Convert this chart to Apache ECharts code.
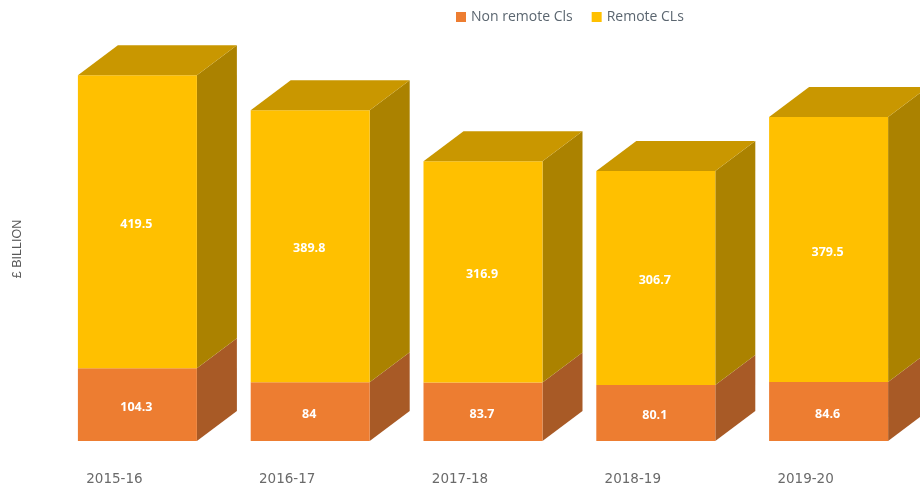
<!DOCTYPE html>
<html>
<head>
<meta charset="utf-8">
<style>
  html, body { margin: 0; padding: 0; background: #fff; }
  #main { width: 920px; height: 488px; }
</style>
<script src="https://cdn.jsdelivr.net/npm/echarts@6/dist/echarts.min.js"></script>
</head>
<body>
<div id="main"></div>
<script>
const categories = ['2015-16', '2016-17', '2017-18', '2018-19', '2019-20'];
const nonRemote = [104.3, 84, 83.7, 80.1, 84.6];
const remote = [419.5, 389.8, 316.9, 306.7, 379.5];

const barWidth = 119;
const depthX = 40;
const depthY = 30;

// fake 3D box: front, side and top faces, drawn from the axis scales
function box(front, side, top) {
    return function (params, api) {
        const i = api.value(0);
        const low = api.coord([i, api.value(1)]);
        const high = api.coord([i, api.value(2)]);
        const x0 = low[0] - barWidth / 2;
        const x1 = x0 + barWidth;
        const yb = low[1];
        const yt = high[1];
        const children = [
            {
                type: 'polygon',
                shape: { points: [[x1, yb], [x1 + depthX, yb - depthY], [x1 + depthX, yt - depthY], [x1, yt]] },
                style: { fill: side }
            },
            {
                type: 'rect',
                shape: { x: x0, y: yt, width: barWidth, height: yb - yt },
                style: { fill: front }
            },
            {
                type: 'text',
                style: {
                    x: low[0] - 1,
                    y: (yb + yt) / 2 + 2.5,
                    text: String(api.value(3)),
                    fill: '#fff',
                    font: 'bold 12.5px "Open Sans"',
                    align: 'center',
                    verticalAlign: 'middle'
                }
            }
        ];
        if (top) {
            children.push({
                type: 'polygon',
                shape: { points: [[x0, yt], [x0 + depthX, yt - depthY], [x1 + depthX, yt - depthY], [x1, yt]] },
                style: { fill: top }
            });
        }
        return { type: 'group', children: children };
    };
}

const chart = echarts.init(document.getElementById('main'));
chart.setOption({
    animation: false,
    backgroundColor: '#fff',
    legend: {
        left: 451,
        top: 5,
        itemWidth: 10,
        itemHeight: 10,
        itemGap: 19,
        icon: 'rect',
        textStyle: { color: '#5b6670', fontFamily: 'Open Sans', fontSize: 14 },
        data: ['Non remote Cls', 'Remote CLs']
    },
    grid: { left: 51, right: 5, top: 57, bottom: 47 },
    xAxis: {
        type: 'category',
        data: categories,
        axisTick: { show: false },
        axisLine: { show: false },
        axisLabel: {
            color: '#6a6a6a',
            fontFamily: 'DejaVu Sans',
            fontSize: 13.5,
            margin: 31,
            padding: [0, 46, 0, 0]
        }
    },
    yAxis: {
        type: 'value',
        min: 0,
        max: 550,
        name: '£ BILLION',
        nameLocation: 'middle',
        nameGap: 27,
        nameTextStyle: { color: '#595959', fontFamily: 'Liberation Sans', fontSize: 12.5 },
        axisLine: { show: false },
        axisTick: { show: false },
        axisLabel: { show: false },
        splitLine: { show: false }
    },
    series: [
        {
            name: 'Non remote Cls',
            type: 'custom',
            clip: false,
            itemStyle: { color: '#ed7d31' },
            renderItem: box('#ed7d31', '#a85a26'),
            data: nonRemote.map((v, i) => [i, 0, v, v])
        },
        {
            name: 'Remote CLs',
            type: 'custom',
            clip: false,
            itemStyle: { color: '#ffc000' },
            renderItem: box('#ffc000', '#ab8200', '#c99700'),
            data: remote.map((v, i) => [i, nonRemote[i], nonRemote[i] + v, v])
        }
    ]
});
</script>
</body>
</html>
